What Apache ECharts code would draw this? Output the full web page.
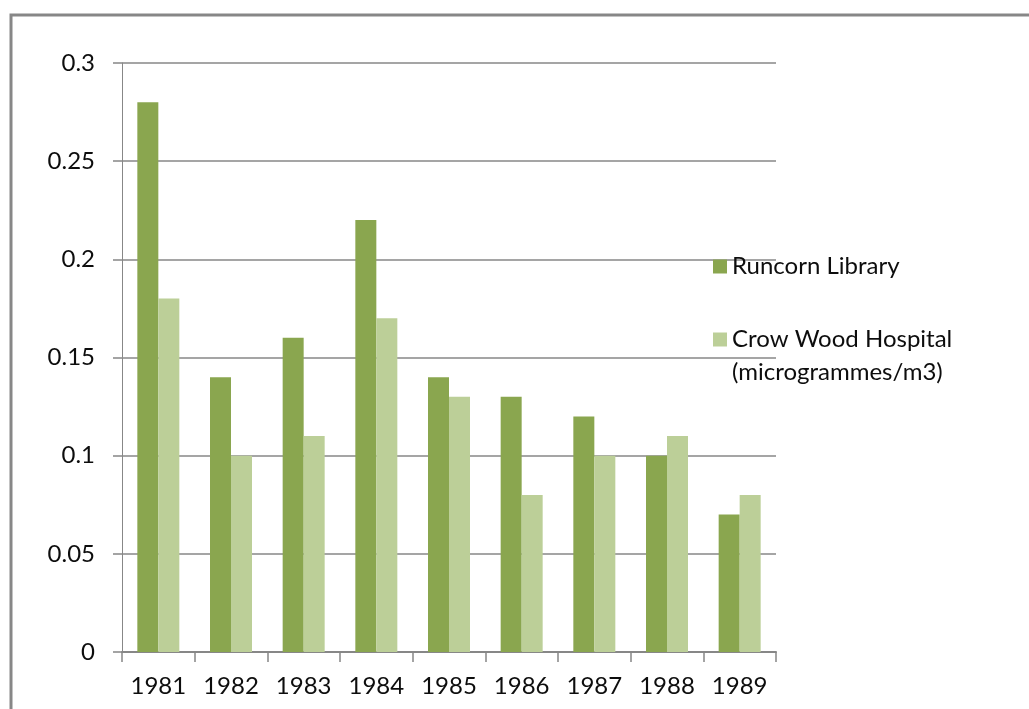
<!DOCTYPE html>
<html>
<head>
<meta charset="utf-8">
<script src="https://cdn.jsdelivr.net/npm/echarts@6/dist/echarts.min.js"></script>
<style>
html,body{margin:0;padding:0;background:#fff;}
#chart{width:1029px;height:709px;}
</style>
</head>
<body>
<div id="chart"></div>
<script>
var categories = ['1981','1982','1983','1984','1985','1986','1987','1988','1989'];
var runcornLibrary = [0.28, 0.14, 0.16, 0.22, 0.14, 0.13, 0.12, 0.10, 0.07];
var crowWoodHospital = [0.18, 0.10, 0.11, 0.17, 0.13, 0.08, 0.10, 0.11, 0.08];
var seriesNames = ['Runcorn Library', 'Crow Wood Hospital\n(microgrammes/m3)'];

var chart = echarts.init(document.getElementById('chart'), null, {renderer:'canvas'});
var font = 'Lato';
chart.setOption({
  animation: false,
  backgroundColor: '#fff',
  graphic: [{
    type: 'rect',
    shape: {x: 11, y: 15, width: 1200, height: 1000},
    style: {fill: 'none', stroke: '#878787', lineWidth: 3},
    silent: true
  }],
  grid: {left: 122, right: 253, top: 63, bottom: 57, containLabel: false},
  legend: {
    orient: 'vertical',
    left: 713,
    top: 250,
    padding: 0,
    itemWidth: 14,
    itemHeight: 14,
    itemGap: 7,
    icon: 'rect',
    selectedMode: false,
    textStyle: {fontFamily: font, fontSize: 24, color: '#0d0d0d', lineHeight: 33},
    formatter: function (name) {
      return name === seriesNames[1] ? '\n' + name : name;
    },
    data: [seriesNames[0], seriesNames[1]]
  },
  xAxis: {
    type: 'category',
    data: categories,
    axisLine: {lineStyle: {color: '#878787', width: 2}},
    axisTick: {show: true, length: 10, lineStyle: {color: '#878787', width: 1.5}},
    axisLabel: {fontFamily: font, fontSize: 24, color: '#0d0d0d', margin: 22}
  },
  yAxis: {
    type: 'value',
    min: 0,
    max: 0.3,
    interval: 0.05,
    axisLine: {show: true, lineStyle: {color: '#878787', width: 1}},
    axisTick: {show: true, length: 9, lineStyle: {color: '#878787', width: 1.5}},
    splitLine: {show: true, lineStyle: {color: '#878787', width: 1.5}},
    axisLabel: {fontFamily: font, fontSize: 24, color: '#0d0d0d', margin: 27}
  },
  series: [
    {name: seriesNames[0], type: 'bar', data: runcornLibrary, barWidth: 21, barGap: '0%',
     itemStyle: {color: '#8aa64f'}, emphasis: {disabled: true}},
    {name: seriesNames[1], type: 'bar', data: crowWoodHospital, barWidth: 21, barGap: '0%',
     itemStyle: {color: '#bccf98'}, emphasis: {disabled: true}}
  ]
});
</script>
</body>
</html>
